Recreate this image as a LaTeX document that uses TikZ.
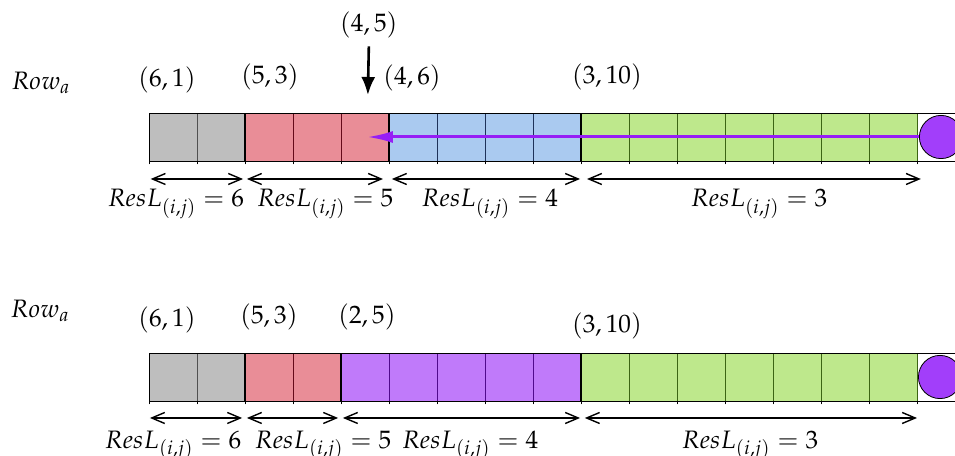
\documentclass[tikz,border=0pt]{standalone}
\usepackage{amsmath,mathpazo,tikz}
\usetikzlibrary{arrows.meta,positioning}
\definecolor{cellgray}{RGB}{190,190,190}
\definecolor{cellred}{RGB}{233,141,151}
\definecolor{cellblue}{RGB}{170,202,240}
\definecolor{cellgreen}{RGB}{190,232,140}
\definecolor{cellpurple}{RGB}{192,122,250}
\definecolor{edgegray}{RGB}{80,80,80}
\definecolor{edgered}{RGB}{100,10,25}
\definecolor{edgeblue}{RGB}{30,50,90}
\definecolor{edgegreen}{RGB}{60,100,20}
\definecolor{edgepurple}{RGB}{80,10,140}
\definecolor{dotpurple}{RGB}{162,62,250}
\definecolor{movepurple}{RGB}{150,30,245}
\tikzset{
  lbl/.style={font=\fontsize{12.6}{15}\selectfont,inner sep=1pt},
  reslbl/.style={lbl,anchor=base},
  spanarrow/.style={{Straight Barb[length=6.5pt,width=5.5pt]}-{Straight Barb[length=6.5pt,width=5.5pt]},line width=0.7pt},
  dot/.style={circle,draw=black,thin,fill=dotpurple,minimum size=21.6pt,inner sep=0pt}
}

\begin{document}
\begin{tikzpicture}[x=24pt,y=24pt]
  \useasboundingbox (-3.104,-6.146) rectangle (16.792,3.354);
  % Top row: cells
  \foreach \a/\b/\c in {0/2/gray,2/5/red,5/9/blue,9/16/green}{
    \fill[cell\c] (\a,0) rectangle (\b,1);
    \foreach \x in {\a,...,\b} \draw[edge\c,thin] (\x,0) -- (\x,1);
  }
  \foreach \x in {0,...,17} \draw[thin] (\x,-0.07) -- (\x,0);
  \draw[thin] (0,0) rectangle (17,1);
  \foreach \x in {2,5,9} \draw[line width=1.4pt] (\x,0) -- (\x,1);
  \node[dot] (dotA) at (16.5,0.5) {};
  % Top row: move of the dot
  \coordinate (moveA) at (4.54,0.5);
  \draw[movepurple,line width=1.5pt,-{Latex[length=13pt,width=6pt]}] (dotA) -- (moveA);
  % Top row: labels
  \node[lbl] (rowA) at (-2.25,1.62) {$Row_a$};
  \node[lbl] (pA61) at (0.375,1.69) {$(6,1)$};
  \node[lbl] (pA53) at (2.52,1.75) {$(5,3)$};
  \node[lbl] (pA45) at (4.58,2.83) {$(4,5)$};
  \node[lbl] (pA46) at (5.48,1.73) {$(4,6)$};
  \node[lbl] (pA310) at (9.54,1.75) {$(3,10)$};
  \coordinate (dropA) at (4.56,1.375);
  \draw[line width=1.3pt,-{Latex[length=9pt,width=7pt]}] (pA45.south) ++(0,-0.12) -- (dropA);
  % Top row: lengths
  \foreach \a/\b in {0.035/1.96,2.04/4.875,5.06/8.98,9.125/16.08}
    \draw[spanarrow] (\a,-0.375) -- (\b,-0.375);
  \node[reslbl] (resA6) at (0.56,-0.958) {$ResL_{(i,j)} = 6$};
  \node[reslbl] (resA5) at (3.67,-0.958) {$ResL_{(i,j)} = 5$};
  \node[reslbl] (resA4) at (7.10,-0.958) {$ResL_{(i,j)} = 4$};
  \node[reslbl] (resA3) at (12.71,-0.958) {$ResL_{(i,j)} = 3$};

  % Bottom row: cells
  \foreach \a/\b/\c in {0/2/gray,2/4/red,4/9/purple,9/16/green}{
    \fill[cell\c] (\a,-5) rectangle (\b,-4);
    \foreach \x in {\a,...,\b} \draw[edge\c,thin] (\x,-5) -- (\x,-4);
  }
  \foreach \x in {0,...,17} \draw[thin] (\x,-5.07) -- (\x,-5);
  \draw[thin] (0,-5) rectangle (17,-4);
  \foreach \x in {2,4,9} \draw[line width=1.4pt] (\x,-5) -- (\x,-4);
  \node[dot] (dotB) at (16.48,-4.5) {};
  % Bottom row: labels
  \node[lbl] (rowB) at (-2.27,-3.125) {$Row_a$};
  \node[lbl] (pB61) at (0.375,-3.31) {$(6,1)$};
  \node[lbl] (pB53) at (2.5,-3.25) {$(5,3)$};
  \node[lbl] (pB25) at (4.54,-3.25) {$(2,5)$};
  \node[lbl] (pB310) at (9.54,-3.44) {$(3,10)$};
  % Bottom row: lengths
  \foreach \a/\b in {0.02/1.94,2.04/3.94,4.04/8.98,9.08/16.0}
    \draw[spanarrow] (\a,-5.354) -- (\b,-5.354);
  \node[reslbl] (resB6) at (0.5,-5.98) {$ResL_{(i,j)} = 6$};
  \node[reslbl] (resB5) at (3.625,-5.98) {$ResL_{(i,j)} = 5$};
  \node[reslbl] (resB4) at (6.69,-5.98) {$ResL_{(i,j)} = 4$};
  \node[reslbl] (resB3) at (12.52,-5.98) {$ResL_{(i,j)} = 3$};
\end{tikzpicture}
\end{document}
